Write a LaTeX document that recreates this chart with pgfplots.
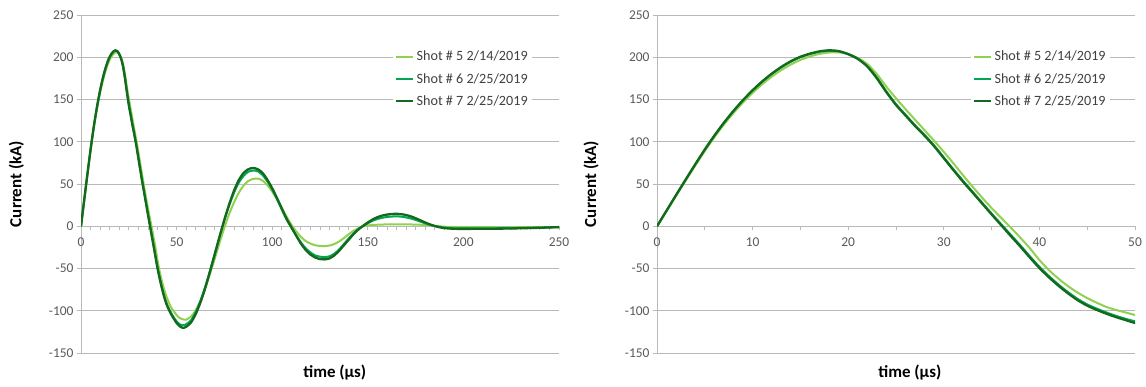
\documentclass[border=0pt]{standalone}
\usepackage{fontspec}
\setmainfont{Carlito}
\usepackage{pgfplots}
\usepackage{pgfplotstable}
\pgfplotsset{compat=1.18}
\definecolor{s5c}{RGB}{146,208,80}
\definecolor{s6c}{RGB}{0,166,81}
\definecolor{s7c}{RGB}{20,105,30}
\definecolor{gridc}{RGB}{185,185,185}
\definecolor{tickc}{RGB}{89,89,89}
\definecolor{legc}{RGB}{64,64,64}

\pgfplotstableread{
t s5 s6 s7
0 0 0 0
1 18 18.5 18.5
2 36 37 37
3 54 55.2 55.3
4 71.8 73.2 73.3
5 89 90.6 90.8
6 105.3 107 107.3
7 120.3 122.2 122.6
8 134 136.2 136.6
9 146.5 149 149.4
10 157.8 160.5 161
11 168 170.9 171.4
12 177 180.1 180.6
13 184.8 188 188.6
14 191.4 194.7 195.3
15 196.8 200 200.6
16 201 203.8 204.3
17 204 206.5 207
18 205.6 207.7 208.2
19 205.8 207 207.3
20 203.8 203.5 203.8
21 199.2 198 198.2
22 192 189.5 189
23 180 176 175
24 165 159.5 158.5
25 151.5 144.5 143.5
26 138.5 132 131
27 126 119.5 118.5
28 113.5 108 107
29 101 95.5 94.5
30 88 81.5 80.5
31 74.5 67.5 66.5
32 60.5 54 52.8
33 47 41 40
34 34 28 27
35 21.5 15 14
36 10 2.5 1.3
37 -1.5 -10 -11.5
38 -13.5 -22.5 -24
39 -26 -35.5 -37
40 -40 -48 -49.5
41 -52 -59 -60.5
42 -62 -69 -70.5
43 -71 -78 -79.5
44 -78.5 -86 -87.5
45 -85 -92.5 -94
46 -90.5 -97.5 -99
47 -95.5 -102 -103.5
48 -99 -106 -107.5
49 -102 -109.5 -111
50 -105 -112.5 -114.5
51 -107.5 -115 -117
52 -109 -116.5 -119
53 -110 -117 -120
54 -110.5 -117 -120
55 -110.5 -116 -119
57.5 -107 -111.5 -114
60 -99.5 -101.5 -104
62.5 -88 -88 -90
65 -73 -71.5 -73
67.5 -56 -52 -53.5
70 -38 -32 -33
72.5 -19.5 -12 -12
75 -1.5 7 8
77.5 14.5 24.5 26
80 28 39.5 42
82.5 39.5 51.5 54.5
85 48 59.5 63
87.5 53.5 64.5 67.5
90 56 66 69
92.5 56.5 65 67.5
95 54 60.5 63
97.5 48.5 53 55
100 41 43.5 45
102.5 32 32 33.5
105 22 20 21
107.5 11.5 8 9
110 2 -1.5 -1
112.5 -6 -10.5 -11
115 -12.5 -19 -20.5
117.5 -17.5 -26 -28
120 -20.5 -31 -33.5
122.5 -22.5 -34.5 -37
125 -23.3 -36 -38.8
127.5 -23.5 -36.5 -39.2
130 -22.8 -35.5 -38
132.5 -21 -32.5 -34.5
135 -18 -27.5 -29
137.5 -14 -21 -22.5
140 -9.5 -14.5 -16
142.5 -5.5 -8.5 -9.5
145 -2.5 -3.5 -4
147.5 -0.3 0.2 0.5
150 1 3.5 4.5
152.5 1.5 6.5 8
155 1.8 8.5 10.7
157.5 2.0 10 12.6
160 2.2 11 13.8
162.5 2.25 11.5 14.5
165 2.3 11.7 14.7
167.5 2.25 11.4 14.3
170 2.2 10.5 13.3
172.5 2.1 9.2 11.7
175 2 7.5 9.5
177.5 1.8 5.5 7
180 1.5 3.5 4.5
182.5 1.0 1.8 2.2
185 0.5 0.3 0.3
187.5 0 -0.8 -1.2
190 -0.5 -1.6 -2.2
195 -0.9 -2.4 -3
200 -1 -2.6 -3.1
210 -1.1 -2.5 -3
220 -1.2 -2.3 -2.8
230 -1.1 -2 -2.4
240 -1 -1.6 -1.8
250 -1 -1 -1
}\shots

\pgfplotsset{
  myax/.style={
    scale only axis, width=478bp, height=338bp,
    anchor=south west,
    xmin=0, ymin=-150, ymax=250,
    ytick={-150,-100,...,250},
    axis y line=left, axis x line=middle,
    axis line style={-, draw=gridc, line width=0.8bp},
    every inner x axis line/.append style={-},
    every outer y axis line/.append style={-},
    hide obscured x ticks=false,
    ymajorgrids, grid style={draw=gridc, line width=0.8bp},
    tick align=outside,
    major tick length=4bp, minor tick length=4bp,
    tick style={draw=gridc, line width=0.8bp},
    /pgf/number format/assume math mode=true,
    tick label style={font=\fontsize{13.5}{16}\selectfont, text=tickc},
    xticklabel style={yshift=-4bp},
    ylabel={Current (kA)}, xlabel={time (µs)},
    label style={font=\fontsize{17}{20}\selectfont\bfseries, text=black},
    xlabel style={at={(axis description cs:0.531,-0.059)}, anchor=center},
    ylabel style={at={(axis description cs:-0.135,0.5)}, anchor=center, rotate=0},
    legend style={draw=none, fill=white, font=\fontsize{14.2}{15}\selectfont,
      text=legc, anchor=north west, row sep=7bp, inner sep=2bp,
      /tikz/every odd column/.append style={column sep=0bp}},
    legend cell align=left,
    legend image code/.code={\draw[#1] (0bp,0bp) -- (17bp,0bp);},
    clip=true,
  },
  l5/.style={s5c, line width=2bp, smooth, tension=0.4},
  l6/.style={s6c, line width=2bp, smooth, tension=0.4},
  l7/.style={s7c, line width=2.3bp, smooth, tension=0.4},
}

\begin{document}
\begin{tikzpicture}
\path[use as bounding box] (0bp,0bp) rectangle (1146bp,-387bp);
\begin{axis}[myax, at={(81bp,-353bp)}, xmax=250,
  xtick={0,50,...,250}, minor x tick num=9,
  legend style={at={(axis description cs:0.653,0.906)}}]
\addplot[l5] table[x=t,y=s5]{\shots};
\addlegendentry{Shot \# 5 2/14/2019}
\addplot[l6] table[x=t,y=s6]{\shots};
\addlegendentry{Shot \# 6 2/25/2019}
\addplot[l7] table[x=t,y=s7]{\shots};
\addlegendentry{Shot \# 7 2/25/2019}
\end{axis}
\begin{axis}[myax, at={(657bp,-353bp)}, xmax=50,
  xtick={0,10,...,50}, minor x tick num=1,
  ylabel style={at={(axis description cs:-0.138,0.5)}},
  xlabel style={at={(axis description cs:0.529,-0.059)}},
  legend style={at={(axis description cs:0.657,0.906)}}]
\addplot[l5] table[x=t,y=s5]{\shots};
\addlegendentry{Shot \# 5 2/14/2019}
\addplot[l6] table[x=t,y=s6]{\shots};
\addlegendentry{Shot \# 6 2/25/2019}
\addplot[l7] table[x=t,y=s7]{\shots};
\addlegendentry{Shot \# 7 2/25/2019}
\end{axis}
\end{tikzpicture}
\end{document}
